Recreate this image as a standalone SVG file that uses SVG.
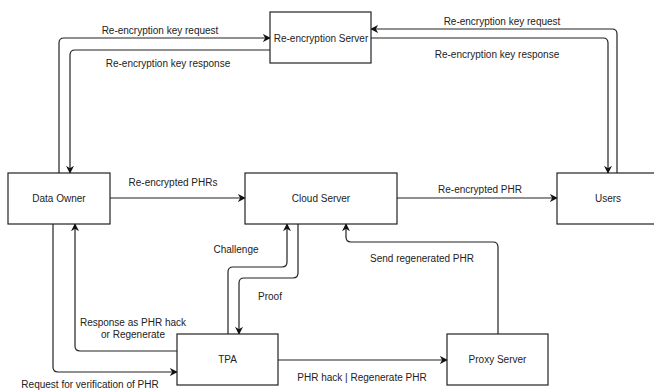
<svg xmlns="http://www.w3.org/2000/svg" width="654" height="390" viewBox="0 0 654 390">
<defs>
<marker id="ah" viewBox="0 0 10 10" refX="9" refY="5" markerWidth="8" markerHeight="8" markerUnits="userSpaceOnUse" orient="auto">
<path d="M0,0 L10,5 L0,10 L3,5 Z" fill="#111"/>
</marker>
</defs>
<style>
.box{fill:#fff;stroke:#222;stroke-width:1.2}
.lbl{font-family:"Liberation Sans",Arial,sans-serif;font-size:10px;fill:#222;text-anchor:middle}
.ed{fill:none;stroke:#222;stroke-width:1.2;marker-end:url(#ah)}
</style>
<rect width="654" height="390" fill="#fff"/>
<g id="connectors">
<path class="ed" d="M59,173 V43 Q59,38 64,38 H270"/>
<path class="ed" d="M270,50 H75 Q70,50 70,55 V173"/>
<path class="ed" d="M617,173 V34 Q617,29 612,29 H371"/>
<path class="ed" d="M371,38 H603 Q608,38 608,43 V173"/>
<path class="ed" d="M110,198 H245"/>
<path class="ed" d="M397,198 H557"/>
<path class="ed" d="M228,334 V272 Q228,267 233,267 H282 Q287,267 287,262 V224"/>
<path class="ed" d="M298,224 V273 Q298,278 293,278 H244 Q239,278 239,283 V334"/>
<path class="ed" d="M177,351 H80 Q75,351 75,346 V224"/>
<path class="ed" d="M53,224 V367 Q53,372 58,372 H177"/>
<path class="ed" d="M278,360 H447"/>
<path class="ed" d="M498,334 V247 Q498,242 493,242 H351 Q346,242 346,237 V224"/>
</g>
<g id="reenc-server"><rect class="box" x="270" y="12" width="101" height="51"/><text class="lbl" x="321" y="41.5">Re-encryption Server</text></g>
<g id="data-owner"><rect class="box" x="8" y="173" width="102" height="51"/><text class="lbl" x="59" y="202">Data Owner</text></g>
<g id="cloud-server"><rect class="box" x="245" y="173" width="152" height="51"/><text class="lbl" x="321" y="202">Cloud Server</text></g>
<g id="users"><rect class="box" x="557" y="173" width="110" height="51"/><text class="lbl" x="608" y="202">Users</text></g>
<g id="tpa"><rect class="box" x="177" y="334" width="101" height="51"/><text class="lbl" x="227.5" y="363">TPA</text></g>
<g id="proxy-server"><rect class="box" x="447" y="334" width="101" height="51"/><text class="lbl" x="497.5" y="363">Proxy Server</text></g>
<g id="labels">
<text class="lbl" x="160" y="34">Re-encryption key request</text>
<text class="lbl" x="168" y="67">Re-encryption key response</text>
<text class="lbl" x="502" y="25">Re-encryption key request</text>
<text class="lbl" x="497" y="58">Re-encryption key response</text>
<text class="lbl" x="173" y="186">Re-encrypted PHRs</text>
<text class="lbl" x="480" y="193">Re-encrypted PHR</text>
<text class="lbl" x="236" y="253">Challenge</text>
<text class="lbl" x="270" y="300">Proof</text>
<text class="lbl" x="133" y="326">Response as PHR hack</text>
<text class="lbl" x="133" y="338">or Regenerate</text>
<text class="lbl" x="90" y="388">Request for verification of PHR</text>
<text class="lbl" x="362" y="381">PHR hack | Regenerate PHR</text>
<text class="lbl" x="422" y="262">Send regenerated PHR</text>
</g>
</svg>
